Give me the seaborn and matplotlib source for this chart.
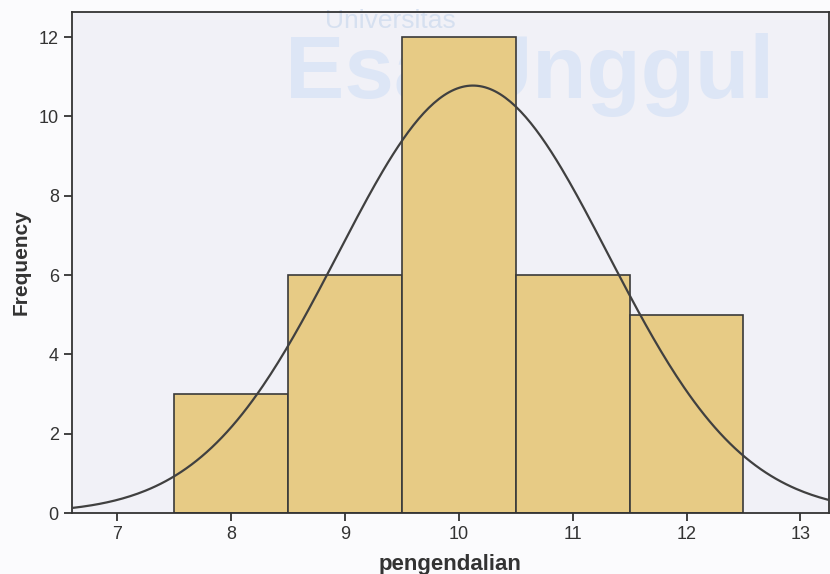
import numpy as np
import matplotlib
matplotlib.use("Agg")
import matplotlib.pyplot as plt
import seaborn as sns

# histogram data
pengendalian = [8, 9, 10, 11, 12]
frequency = [3, 6, 12, 6, 5]
x_ticks = [7, 8, 9, 10, 11, 12, 13]
y_ticks = [0, 2, 4, 6, 8, 10, 12]

sns.set_style("white")
plt.rcParams['font.family'] = ['Liberation Sans', 'DejaVu Sans']

fig = plt.figure(figsize=(8.3, 5.74), dpi=100)
fig.patch.set_facecolor("#fbfbfd")
ax = fig.add_axes([0.0867, 0.106, 0.912, 0.873])
ax.set_facecolor("#f1f1f7")

# faint watermark, behind the bars
ax.text(0.42, 0.982, "Universitas", transform=ax.transAxes, fontsize=19, color="#d6e0f0",
        ha="center", va="center", zorder=1, clip_on=False)
ax.text(0.605, 0.875, "Esa Unggul", transform=ax.transAxes, fontsize=64, fontweight="bold",
        color="#dde6f6", ha="center", va="center", zorder=1)

sns.histplot(x=pengendalian, weights=frequency, discrete=True, ax=ax,
             color="#e7cb85", alpha=1, edgecolor="#3a3a3a", linewidth=1.2, zorder=2)

# normal curve from the histogram's mean and sd
vals = np.repeat(pengendalian, frequency)
mu, sd = vals.mean(), vals.std(ddof=1)
xs = np.linspace(6.6, 13.3, 300)
ys = len(vals) * np.exp(-0.5 * ((xs - mu) / sd) ** 2) / (sd * np.sqrt(2 * np.pi))
sns.lineplot(x=xs, y=ys, ax=ax, color="#404040", linewidth=1.6, zorder=3)

ax.set_xlim(6.605, 13.25)
ax.set_ylim(0, 12.63)
ax.set_xticks(x_ticks)
ax.set_yticks(y_ticks)
ax.tick_params(axis="both", direction="out", length=6, width=1.3, color="#333333",
               labelsize=13, labelcolor="#333333", bottom=True, left=True)
for s in ax.spines.values():
    s.set_color("#333333")
    s.set_linewidth(1.3)

ax.set_xlabel("pengendalian", fontsize=16, fontweight="bold", color="#333333", labelpad=8)
ax.set_ylabel("Frequency", fontsize=15, fontweight="bold", color="#333333", labelpad=6)

fig.savefig("out.png", dpi=100, facecolor=fig.get_facecolor())
